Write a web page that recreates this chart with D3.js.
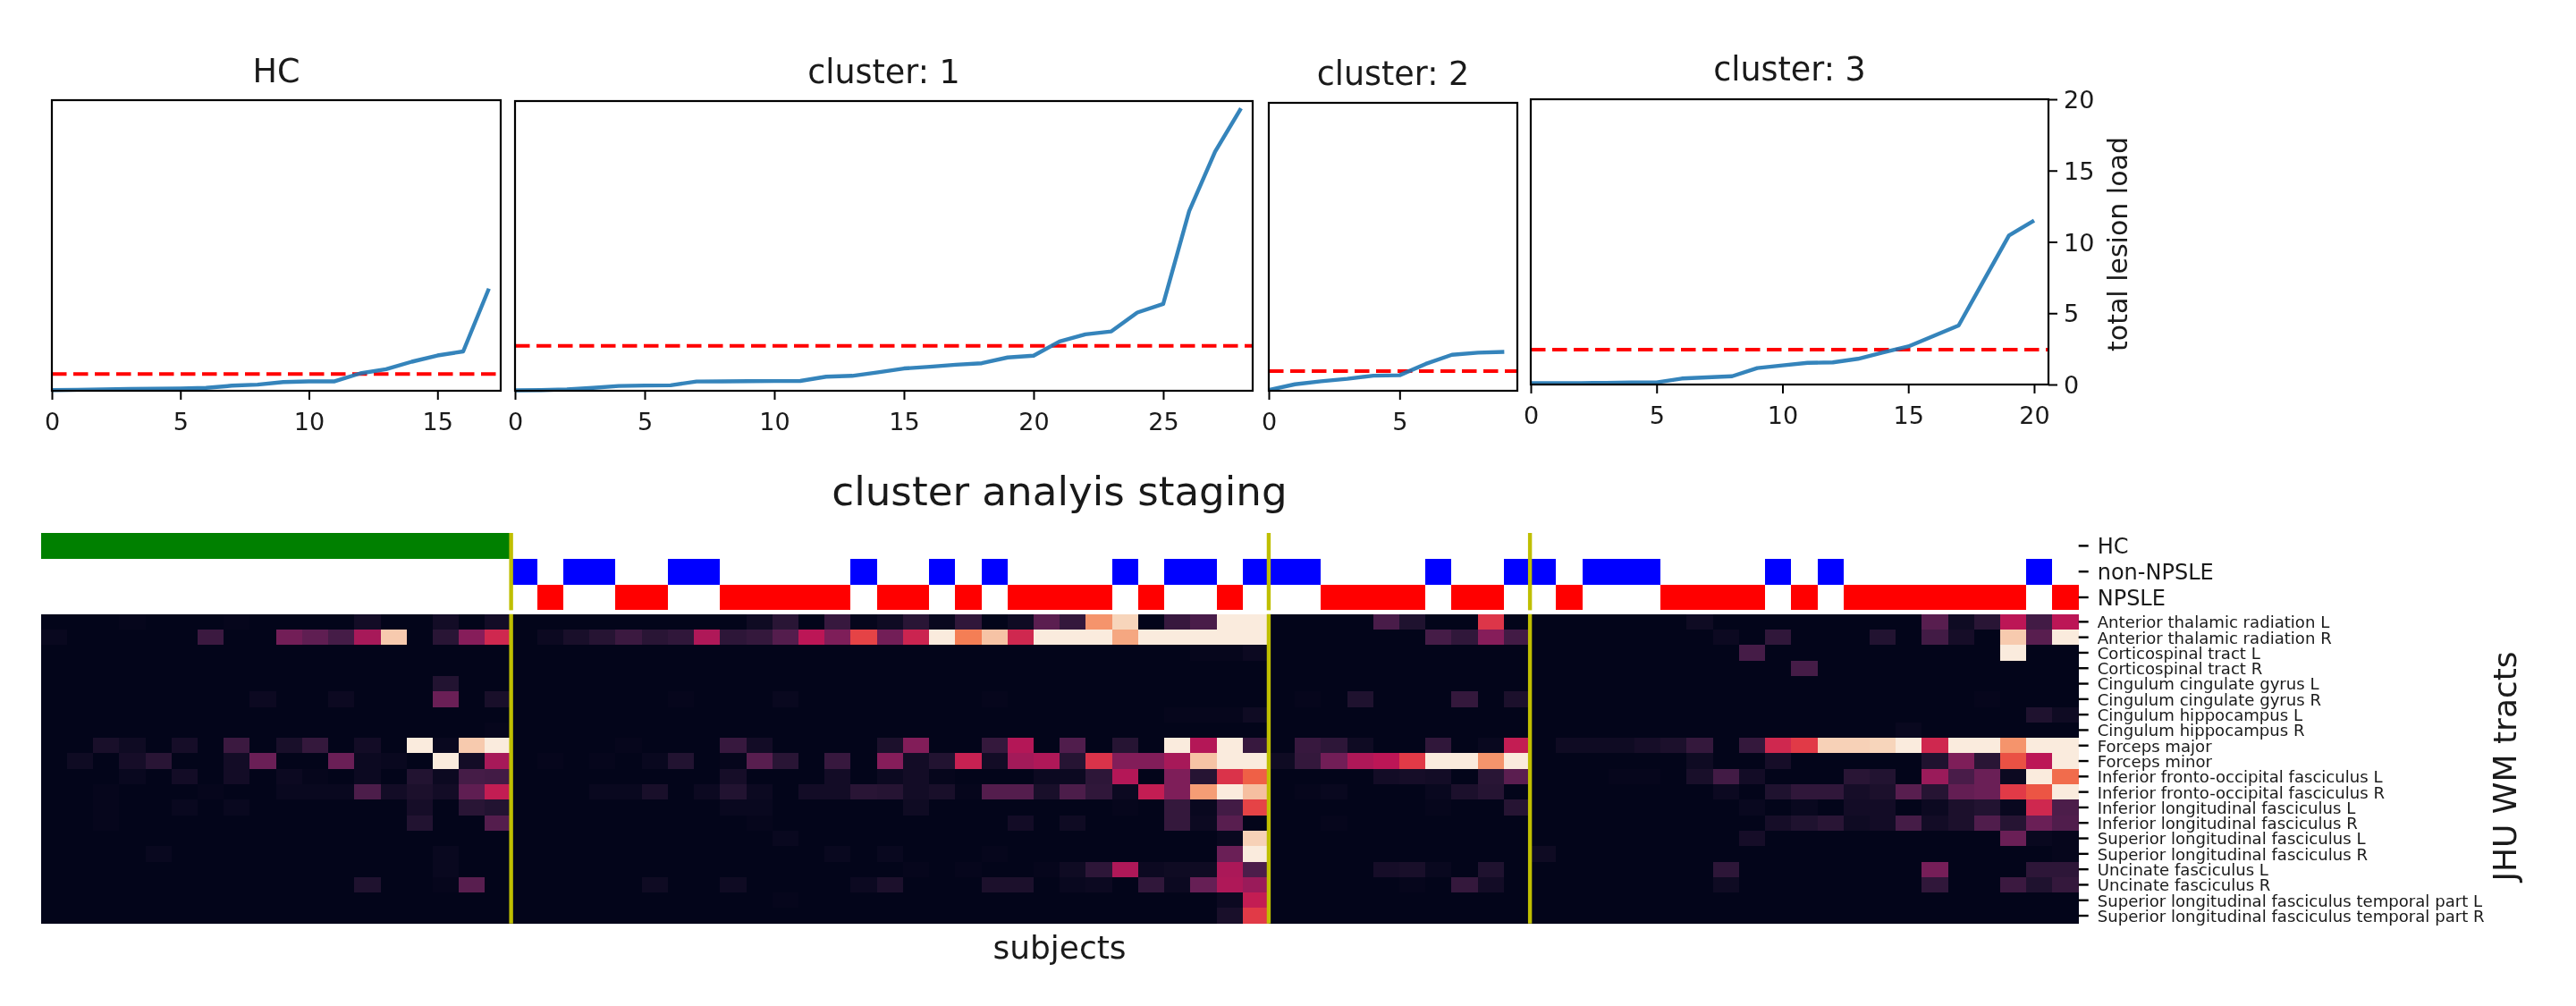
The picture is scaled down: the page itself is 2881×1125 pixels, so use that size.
<!DOCTYPE html>
<html><head><meta charset="utf-8">
<script src="https://cdn.jsdelivr.net/npm/d3@7"></script>
<style>html,body{margin:0;background:#fff}svg{display:block;filter:blur(0.6px)}text{font-family:"DejaVu Sans";fill:#1a1a1a}</style>
</head><body><svg id="c" width="2881" height="1125"></svg>
<script>
// ---------- line panels ----------
const panelTitles = ["HC","cluster: 1","cluster: 2","cluster: 3"];
const loadHC = [.05,.07,.1,.12,.14,.16,.2,.35,.42,.6,.65,.65,1.2,1.48,2,2.43,2.71,7.03];
const loadC1 = [.03,.05,.1,.2,.33,.36,.38,.64,.65,.66,.67,.68,.97,1.03,1.27,1.54,1.66,1.8,1.9,2.3,2.42,3.4,3.9,4.1,5.4,6,12.4,16.5,19.5];
const loadC2 = [.05,.45,.66,.83,1.05,1.08,1.87,2.5,2.65,2.7];
const loadC3 = [.1,.1,.1,.12,.14,.15,.42,.5,.58,1.15,1.34,1.52,1.55,1.8,2.25,2.67,3.4,4.14,7.3,10.45,11.5];
const thresholds = [1.15,3.1,1.37,2.45];
const xMaxima = [17.46,28.45,9.5,20.57];
const xTicks = [[0,5,10,15],[0,5,10,15,20,25],[0,5],[0,5,10,15,20]];
const yTicks = [0,5,10,15,20];
const panelBoxes = [
  {l:58,r:560,t:112,b:437,lab:481},
  {l:576,r:1401,t:113,b:437,lab:481},
  {l:1419,r:1697,t:115,b:437,lab:481},
  {l:1712,r:2291,t:111,b:430,lab:474}];
const titleBase = [92,93,95,90];
const loads = [loadHC,loadC1,loadC2,loadC3];

// ---------- heatmap ----------
const groupNames = ["HC","non-NPSLE","NPSLE"];
const subjectGroups = [
 0,0,0,0,0,0,0,0,0,0,0,0,0,0,0,0,0,0,
 1,2,1,1,2,2,1,1,2,2,2,2,2,1,2,2,1,2,1,2,2,2,2,1,2,1,1,2,1,
 1,1,2,2,2,2,1,2,2,1,
 1,2,1,1,1,2,2,2,2,1,2,1,2,2,2,2,2,2,2,1,2];
const groupColors = ["#008000","#0000ff","#ff0000"];
const clusterStarts = [18,47,57];
const tractNames = ["Anterior thalamic radiation L","Anterior thalamic radiation R","Corticospinal tract L","Corticospinal tract R","Cingulum cingulate gyrus L","Cingulum cingulate gyrus R","Cingulum hippocampus L","Cingulum hippocampus R","Forceps major","Forceps minor","Inferior fronto-occipital fasciculus L","Inferior fronto-occipital fasciculus R","Inferior longitudinal fasciculus L","Inferior longitudinal fasciculus R","Superior longitudinal fasciculus L","Superior longitudinal fasciculus R","Uncinate fasciculus L","Uncinate fasciculus R","Superior longitudinal fasciculus temporal part L","Superior longitudinal fasciculus temporal part R"];
// non-zero cells per tract: [subject, value]
const tract00 = [[3,1],[7,1],[12,5],[15,5],[17,5],[27,4],[28,12],[30,16],[31,1],[32,4],[33,12],[34,2],[35,14],[37,4],[38,26],[39,15],[40,78],[41,93],[43,16],[44,21],[45,100],[46,100],[51,21],[52,9],[55,59],[63,4],[72,25],[73,4],[74,12],[75,50],[76,19],[77,50]];
const tract01 = [[0,2],[6,17],[9,32],[10,27],[11,20],[12,45],[13,90],[15,12],[16,37],[17,55],[19,3],[20,7],[21,11],[22,17],[23,12],[24,14],[25,47],[26,13],[27,15],[28,24],[29,50],[30,35],[31,62],[32,32],[33,54],[34,100],[35,73],[36,88],[37,55],[38,100],[39,100],[40,100],[41,82],[42,100],[43,100],[44,100],[45,100],[46,100],[53,20],[54,14],[55,37],[56,19],[64,3],[66,14],[70,10],[72,19],[73,6],[75,90],[76,25],[77,100]];
const tract02 = [[44,1],[45,1],[46,3],[65,20],[75,100]];
const tract03 = [[67,20]];
const tract04 = [[15,10]];
const tract05 = [[8,3],[11,3],[15,30],[17,7],[24,1],[28,2],[36,1],[48,1],[50,9],[54,15],[56,8],[74,1]];
const tract06 = [[43,1],[44,1],[45,1],[46,4],[76,9],[77,4]];
const tract07 = [[17,1],[71,2]];
const tract08 = [[2,7],[3,4],[5,6],[7,17],[9,7],[10,15],[12,5],[14,100],[15,2],[16,90],[17,100],[22,1],[26,16],[27,5],[32,8],[33,36],[36,15],[37,48],[39,23],[41,11],[43,100],[44,48],[45,100],[46,16],[48,16],[49,13],[50,4],[53,14],[55,2],[56,52],[58,4],[59,4],[60,4],[61,6],[62,8],[63,15],[65,15],[66,55],[67,60],[68,92],[69,92],[70,93],[71,100],[72,55],[73,100],[74,100],[75,78],[76,100],[77,100]];
const tract09 = [[1,4],[3,6],[4,12],[7,5],[8,30],[11,30],[12,3],[13,2],[15,100],[16,5],[17,45],[19,1],[21,1],[23,2],[24,10],[26,1],[27,25],[28,12],[30,16],[32,37],[33,5],[34,10],[35,53],[36,5],[37,44],[38,47],[39,11],[40,58],[41,36],[42,36],[43,45],[44,88],[45,100],[46,100],[47,4],[48,15],[49,32],[50,47],[51,50],[52,60],[53,100],[54,100],[55,78],[56,100],[63,4],[66,6],[72,9],[73,35],[74,12],[75,65],[76,50],[77,100]];
const tract10 = [[3,2],[5,5],[7,5],[9,3],[10,1],[12,3],[14,10],[15,3],[16,20],[17,19],[26,6],[30,5],[32,3],[33,5],[34,1],[38,3],[39,3],[40,13],[41,48],[43,35],[44,11],[45,58],[46,68],[51,5],[52,6],[53,5],[55,12],[56,26],[60,1],[61,1],[63,7],[64,19],[65,5],[69,12],[70,10],[72,42],[73,21],[74,30],[75,3],[76,100],[77,70]];
const tract11 = [[2,1],[6,1],[9,2],[10,2],[11,2],[12,22],[13,5],[14,8],[15,5],[16,27],[17,52],[21,2],[22,2],[23,7],[25,3],[26,10],[27,3],[29,5],[30,5],[31,12],[32,11],[33,5],[34,7],[35,1],[36,24],[37,24],[38,7],[39,22],[40,14],[41,3],[42,52],[43,35],[44,80],[45,100],[46,87],[48,1],[49,2],[53,2],[54,8],[55,11],[64,3],[66,9],[67,14],[68,14],[69,6],[70,8],[71,25],[72,11],[73,28],[74,30],[75,60],[76,66],[77,100]];
const tract12 = [[2,1],[5,2],[7,2],[14,6],[16,12],[17,10],[26,2],[27,2],[33,4],[41,1],[43,15],[44,2],[45,19],[46,62],[53,1],[56,11],[65,2],[67,2],[69,5],[70,5],[72,3],[73,8],[74,10],[75,2],[76,55],[77,22]];
const tract13 = [[2,1],[14,10],[17,24],[27,1],[37,5],[39,4],[43,15],[44,3],[45,25],[49,1],[66,6],[67,9],[68,12],[69,4],[70,5],[71,20],[72,5],[73,8],[74,23],[75,11],[76,30],[77,23]];
const tract14 = [[28,2],[45,2],[46,92],[65,6],[75,30],[76,2],[77,1]];
const tract15 = [[4,2],[15,2],[30,2],[32,2],[36,1],[45,30],[46,100],[57,4],[77,1]];
const tract16 = [[15,2],[33,1],[35,1],[38,1],[39,4],[40,13],[41,47],[42,3],[43,4],[44,4],[45,46],[46,22],[51,6],[52,7],[53,2],[55,9],[64,13],[72,33],[76,13],[77,13]];
const tract17 = [[12,9],[15,1],[16,25],[23,4],[26,4],[31,3],[32,8],[36,8],[37,8],[39,2],[40,3],[42,14],[43,3],[44,29],[45,47],[46,42],[52,1],[54,15],[55,5],[64,4],[72,14],[75,17],[76,9],[77,15]];
const tract18 = [[28,1],[45,3],[46,52]];
const tract19 = [[45,7],[46,60]];
const tractCells = [tract00,tract01,tract02,tract03,tract04,tract05,tract06,tract07,tract08,tract09,tract10,tract11,tract12,tract13,tract14,tract15,tract16,tract17,tract18,tract19];

const svg = d3.select("#c");
const blue = "#1f77b4", ink = "#000";

// line panels
panelBoxes.forEach((b,i)=>{
  const x = d3.scaleLinear().domain([0,xMaxima[i]]).range([b.l,b.r]);
  const y = d3.scaleLinear().domain([0,20]).range([b.b,b.t]);
  const g = svg.append("g");
  g.append("line").attr("x1",b.l).attr("x2",b.r).attr("y1",y(thresholds[i])).attr("y2",y(thresholds[i]))
    .attr("stroke","#ff0000").attr("stroke-width",4).attr("stroke-dasharray","16.5 7.5");
  g.append("path").datum(loads[i]).attr("fill","none").attr("stroke",blue).attr("stroke-width",4.4).attr("opacity",.9)
    .attr("stroke-linejoin","round")
    .attr("d",d3.line().x((d,k)=>x(k)).y(d=>y(d)));
  g.append("rect").attr("x",b.l).attr("y",b.t).attr("width",b.r-b.l).attr("height",b.b-b.t)
    .attr("fill","none").attr("stroke",ink).attr("stroke-width",2.2);
  const ax = g.append("g").attr("transform",`translate(0,${b.b})`)
    .call(d3.axisBottom(x).tickValues(xTicks[i]).tickSize(10).tickSizeOuter(0).tickFormat(d3.format("d")));
  ax.select(".domain").remove();
  ax.selectAll("line").attr("stroke",ink).attr("stroke-width",2);
  ax.selectAll("text").attr("font-size",27).attr("fill","#222").attr("y",b.lab-b.b).attr("dy",0);
  g.append("text").attr("x",(b.l+b.r)/2).attr("y",titleBase[i]).attr("text-anchor","middle").attr("font-size",36.5).text(panelTitles[i]);
  if(i===3){
    const ay = g.append("g").attr("transform",`translate(${b.r},0)`)
      .call(d3.axisRight(y).tickValues(yTicks).tickSize(10).tickSizeOuter(0));
    ay.select(".domain").remove();
    ay.selectAll("line").attr("stroke",ink).attr("stroke-width",2);
    ay.selectAll("text").attr("font-size",27).attr("fill","#222").attr("x",17).attr("dy","0.36em");
    g.append("text").attr("transform","translate(2379,273) rotate(-90)").attr("text-anchor","middle").attr("font-size",30).attr("fill","#333").text("total lesion load");
  }
});

// heatmap
const colL = 45.7, colR = 2324.7;
const subjects = d3.range(subjectGroups.length);
const xCell = d3.scaleBand().domain(subjects).range([colL,colR]);
const yGroup = d3.scaleBand().domain(groupNames).range([596,682.4]);
const yTract = d3.scaleBand().domain(tractNames).range([686.7,1032.7]);
const rocket = d3.scaleLinear()
  .domain([0,10,20,30,40,50,60,67,73,80,87,93,100])
  .range(["#03051a","#221331","#451c47","#6a1f56","#921c5b","#bc1656","#e13a47","#ee5a43","#f47e55","#f59d75","#f6bfa0","#f7d5bb","#faebdd"]);

const heat = svg.append("g").attr("shape-rendering","crispEdges");
heat.append("g").selectAll("rect").data(subjects).join("rect")
  .attr("x",d=>xCell(d)).attr("width",xCell.bandwidth())
  .attr("y",d=>yGroup(groupNames[subjectGroups[d]])).attr("height",yGroup.bandwidth())
  .attr("fill",d=>groupColors[subjectGroups[d]]);
const denseRows = tractCells.map(cells=>{
  const row = subjects.map(()=>0);
  cells.forEach(([s,v])=>{row[s]=v;});
  return row;
});
heat.append("g").selectAll("g").data(denseRows).join("g")
  .attr("transform",(d,i)=>`translate(0,${yTract(tractNames[i])})`)
  .selectAll("rect").data(d=>d).join("rect")
  .attr("x",(d,i)=>xCell(i)).attr("width",xCell.bandwidth()+.5).attr("height",yTract.bandwidth()+.5)
  .attr("fill",d=>rocket(d));

// cluster separators
[[596,682.4],[686.7,1032.7]].forEach(([a,b])=>{
  svg.append("g").selectAll("line").data(clusterStarts).join("line")
    .attr("x1",d=>xCell(d)).attr("x2",d=>xCell(d)).attr("y1",a).attr("y2",b)
    .attr("stroke","#bfbf00").attr("stroke-width",4.4);
});

// right axes
const axG = svg.append("g").attr("transform",`translate(${colR},0)`)
  .call(d3.axisRight(yGroup).tickSize(11).tickSizeOuter(0));
axG.select(".domain").remove();
axG.selectAll("line").attr("stroke",ink).attr("stroke-width",2.4);
axG.selectAll("text").attr("font-size",24).attr("fill","#111").attr("x",21).attr("dy","0.36em");
const axT = svg.append("g").attr("transform",`translate(${colR},0)`)
  .call(d3.axisRight(yTract).tickSize(11).tickSizeOuter(0));
axT.select(".domain").remove();
axT.selectAll("line").attr("stroke",ink).attr("stroke-width",2.4);
axT.selectAll("text").attr("font-size",18.1).attr("fill","#111").attr("x",21).attr("dy","0.38em");

// figure labels
svg.append("text").attr("x",1185).attr("y",565).attr("text-anchor","middle").attr("font-size",45.2).text("cluster analyis staging");
svg.append("text").attr("x",1185).attr("y",1072).attr("text-anchor","middle").attr("font-size",36).text("subjects");
svg.append("text").attr("transform","translate(2814,857) rotate(-90)").attr("text-anchor","middle").attr("font-size",36).text("JHU WM tracts");
</script></body></html>
